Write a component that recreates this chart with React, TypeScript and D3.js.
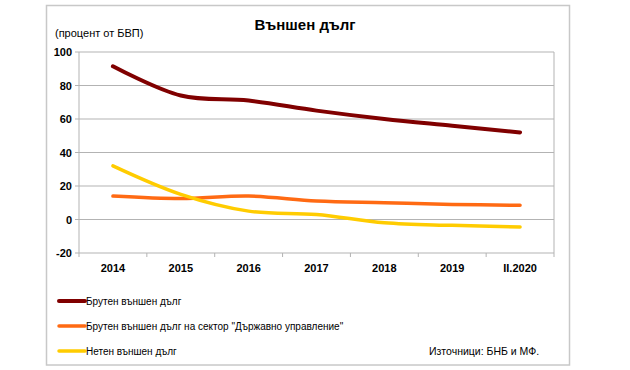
import * as d3 from 'd3';

const categories = ['2014', '2015', '2016', '2017', '2018', '2019', 'II.2020'];
const grossDebt = [91.5, 74, 71, 65, 60, 56, 52];
const govDebt = [14, 12.5, 14, 11, 10, 9, 8.5];
const netDebt = [32, 15, 5, 3, -2, -3.5, -4.5];
const yTicks = [-20, 0, 20, 40, 60, 80, 100];

const series = [
  { name: 'Брутен външен дълг', values: grossDebt, color: '#800000', width: 4 },
  { name: 'Брутен външен дълг на сектор "Държавно управление"', values: govDebt, color: '#ff6a13', width: 3.5 },
  { name: 'Нетен външен дълг', values: netDebt, color: '#ffcc00', width: 3.5 },
];

const W = 630;
const H = 370;
const plot = { left: 79, right: 554, top: 52, bottom: 253 };
const FONT = '"Liberation Sans", Arial, sans-serif';

export default function App() {
  const x = d3.scaleBand<string>().domain(categories).range([plot.left, plot.right]);
  const y = d3.scaleLinear().domain([-20, 100]).range([plot.bottom, plot.top]);

  const line = d3
    .line<number>()
    .x((_, i) => (x(categories[i]) || 0) + x.bandwidth() / 2)
    .y(d => y(d))
    .curve(d3.curveCatmullRom.alpha(0.5));

  const xBoundaries = categories.map(c => x(c) || 0).concat([plot.right]);

  return (
    <svg width={W} height={H} style={{ position: 'absolute', left: 0, top: 0 }} fontFamily={FONT}>
      <rect x={0} y={0} width={W} height={H} fill="#fff" />
      <rect x={46.5} y={5.5} width={523} height={359.5} fill="#fff" stroke="#c8c8c8" strokeWidth={1.5} />

      <text x={305} y={30} textAnchor="middle" fontSize={15} fontWeight="bold" fill="#000">
        Външен дълг
      </text>
      <text x={55} y={37} fontSize={11} fill="#000">
        (процент от БВП)
      </text>

      {/* gridlines */}
      {yTicks.map(t => (
        <line key={t} x1={plot.left - 4} x2={plot.right} y1={y(t)} y2={y(t)} stroke="#b3b3b3" strokeWidth={1} />
      ))}
      <line x1={plot.left} x2={plot.left} y1={plot.top} y2={plot.bottom} stroke="#b3b3b3" />
      <line x1={plot.right} x2={plot.right} y1={plot.top} y2={plot.bottom} stroke="#b3b3b3" />
      {xBoundaries.map((b, i) => (
        <line key={i} x1={b} x2={b} y1={plot.bottom} y2={plot.bottom + 4} stroke="#b3b3b3" />
      ))}

      {yTicks.map(t => (
        <text key={t} x={plot.left - 7} y={y(t) + 4} textAnchor="end" fontSize={11} fontWeight="bold" fill="#000">
          {t}
        </text>
      ))}
      {categories.map(c => (
        <text
          key={c}
          x={(x(c) || 0) + x.bandwidth() / 2}
          y={plot.bottom + 19}
          textAnchor="middle"
          fontSize={11}
          fontWeight="bold"
          fill="#000"
        >
          {c}
        </text>
      ))}

      {series.map(s => (
        <path
          key={s.name}
          d={line(s.values) || ''}
          fill="none"
          stroke={s.color}
          strokeWidth={s.width}
          strokeLinecap="round"
          strokeLinejoin="round"
        />
      ))}

      {/* legend */}
      {series.map((s, i) => (
        <g key={s.name} transform={`translate(59,${301 + i * 25})`}>
          <line x1={0} x2={26} y1={0} y2={0} stroke={s.color} strokeWidth={s.width} strokeLinecap="round" />
          <text x={27} y={3.5} fontSize={10} fill="#000">
            {s.name}
          </text>
        </g>
      ))}
      <text x={429} y={355} fontSize={10.5} fill="#000">
        Източници: БНБ и МФ.
      </text>
    </svg>
  );
}
